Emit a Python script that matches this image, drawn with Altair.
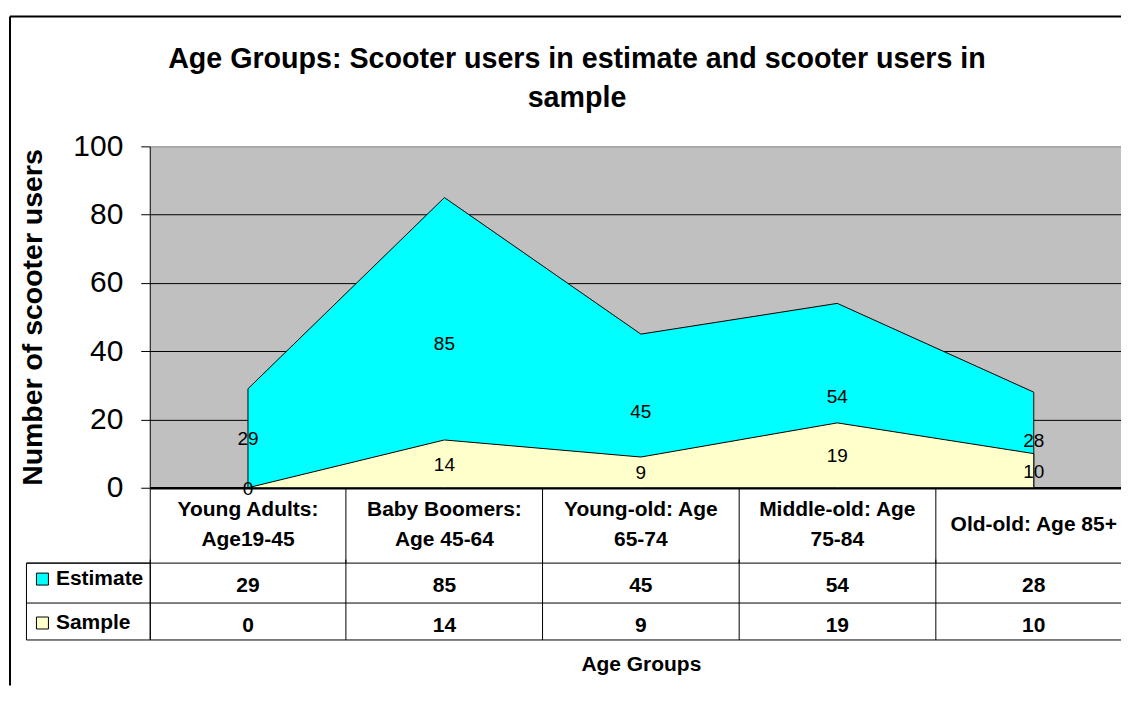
import altair as alt
import pandas as pd

# ---- data ----
categories = ["Young Adults:|Age19-45", "Baby Boomers:|Age 45-64",
              "Young-old: Age|65-74", "Middle-old: Age|75-84", "Old-old: Age 85+"]
estimate = [29, 85, 45, 54, 28]
sample = [0, 14, 9, 19, 10]
series_names = ["Estimate", "Sample"]
series_colors = ["#00FFFF", "#FFFFCC"]
y_ticks = [0, 20, 40, 60, 80, 100]

FONT = "Liberation Sans"
W = 984
H = 342

rows = []
for name, vals in zip(series_names, [estimate, sample]):
    for c, v in zip(categories, vals):
        rows.append({"category": c, "series": name, "value": v})
df = pd.DataFrame(rows)
df_est = df[df.series == "Estimate"]
df_samp = df[df.series == "Sample"]
frame_df = pd.DataFrame({"k": [0]})

color_scale = alt.Scale(domain=series_names, range=series_colors)
legend = alt.Legend(
    title=None, orient="none", legendX=-124, legendY=417, direction="vertical",
    symbolType="square", symbolSize=144, symbolStrokeColor="black", symbolStrokeWidth=1,
    labelFont=FONT, labelFontSize=21, labelFontWeight="bold", labelColor="black",
    labelOffset=3, strokeColor="black", padding=6, rowPadding=22,
)

x_top = alt.X(
    "category:N", sort=categories, bandPosition=0.5,
    scale=alt.Scale(type="band", domain=categories, paddingInner=0, paddingOuter=0),
    axis=alt.Axis(
        title=None, orient="bottom", domain=False, grid=False, ticks=True,
        tickSize=75, tickColor="black", tickWidth=1, bandPosition=0,
        labelExpr="split(datum.label, '|')", labelFont=FONT, labelFontSize=21,
        labelFontWeight="bold", labelColor="black", labelLineHeight=30,
        labelBaseline="middle",
        labelPadding={"condition": {"test": "indexof(datum.value, '|') >= 0", "value": -53},
                      "value": -38},
        labelOverlap=False, labelAngle=0,
    ),
)
y_axis = alt.Axis(
    values=y_ticks, title="Number of scooter users", titleFont=FONT, titleFontSize=28.5,
    titleFontWeight="bold", titleColor="black", titlePadding=25,
    labelFont=FONT, labelFontSize=30, labelColor="black", labelPadding=18,
    tickSize=9, tickColor="black", domain=True, domainColor="black",
    grid=True,
    gridColor={"condition": {"test": "datum.value === 100", "value": "#808080"}, "value": "black"},
    gridWidth={"condition": {"test": "datum.value === 0", "value": 2.5}, "value": 1},
)
y_scale = alt.Scale(domain=[0, 100], nice=False)

frame_left = alt.Chart(frame_df).mark_rule(color="black", strokeWidth=2).encode(
    x=alt.value(-140), y=alt.value(-130), y2=alt.value(540))
frame_top = alt.Chart(frame_df).mark_rule(color="black", strokeWidth=2).encode(
    x=alt.value(-140), x2=alt.value(W), y=alt.value(-130))

est_area = alt.Chart(df_est).mark_area(stroke="black", strokeWidth=1, fillOpacity=1).encode(
    x=x_top, y=alt.Y("value:Q", scale=y_scale, axis=y_axis),
    color=alt.Color("series:N", scale=color_scale, legend=legend))
samp_area = alt.Chart(df_samp).mark_area(stroke="black", strokeWidth=1, fillOpacity=1).encode(
    x=x_top, y=alt.Y("value:Q", scale=y_scale, axis=y_axis),
    color=alt.Color("series:N", scale=color_scale, legend=legend))
labels = alt.Chart(df).transform_calculate(half="datum.value / 2").mark_text(
    font=FONT, fontSize=19, color="black", baseline="middle", dy=1).encode(
    x=x_top, y=alt.Y("half:Q", scale=y_scale, axis=y_axis), text="value:Q")

top = alt.layer(frame_left, frame_top, est_area, samp_area, labels).properties(
    width=W, height=H, view=alt.ViewBackground(fill="#C0C0C0", stroke="transparent"))

# ---- data table ----
x_bot = alt.X(
    "category:N", sort=categories,
    scale=alt.Scale(type="band", domain=categories, paddingInner=0, paddingOuter=0),
    axis=alt.Axis(
        title="Age Groups", titleFont=FONT, titleFontSize=21, titleFontWeight="bold",
        titleColor="black", titlePadding=14, orient="bottom", domain=True,
        domainColor="black", ticks=False, labels=False, grid=True, gridColor="black",
        bandPosition=0,
    ),
)
y_bot = alt.Y(
    "series:N", sort=series_names,
    scale=alt.Scale(type="band", domain=series_names, range=[0, 80.5], paddingInner=0, paddingOuter=0),
    axis=alt.Axis(title=None, labels=False, domain=False, ticks=True, tickSize=124,
                  tickColor="black", bandPosition=0, grid=True, gridColor="black"),
)
table = alt.Chart(df).mark_text(
    font=FONT, fontSize=21, fontWeight="bold", color="black", dy=3).encode(
    x=x_bot, y=y_bot, text="value:Q").properties(
    width=W, height=77, view=alt.ViewBackground(stroke="transparent"))

chart = alt.vconcat(top, table, spacing=75, bounds="flush").resolve_scale(
    x="independent", y="independent").properties(
    title=alt.TitleParams(
        text=["Age Groups: Scooter users in estimate and scooter users in", "sample"],
        font=FONT, fontSize=28.7, fontWeight="bold", color="black", anchor="middle",
        frame="bounds", offset=-98, lineHeight=39.4, dx=6),
    padding={"left": 0, "top": 6, "right": -13, "bottom": 0},
    background="white",
).configure(font=FONT).configure_view(stroke="transparent")

chart.save("out.html", embed_options={"renderer": "svg", "actions": False})
